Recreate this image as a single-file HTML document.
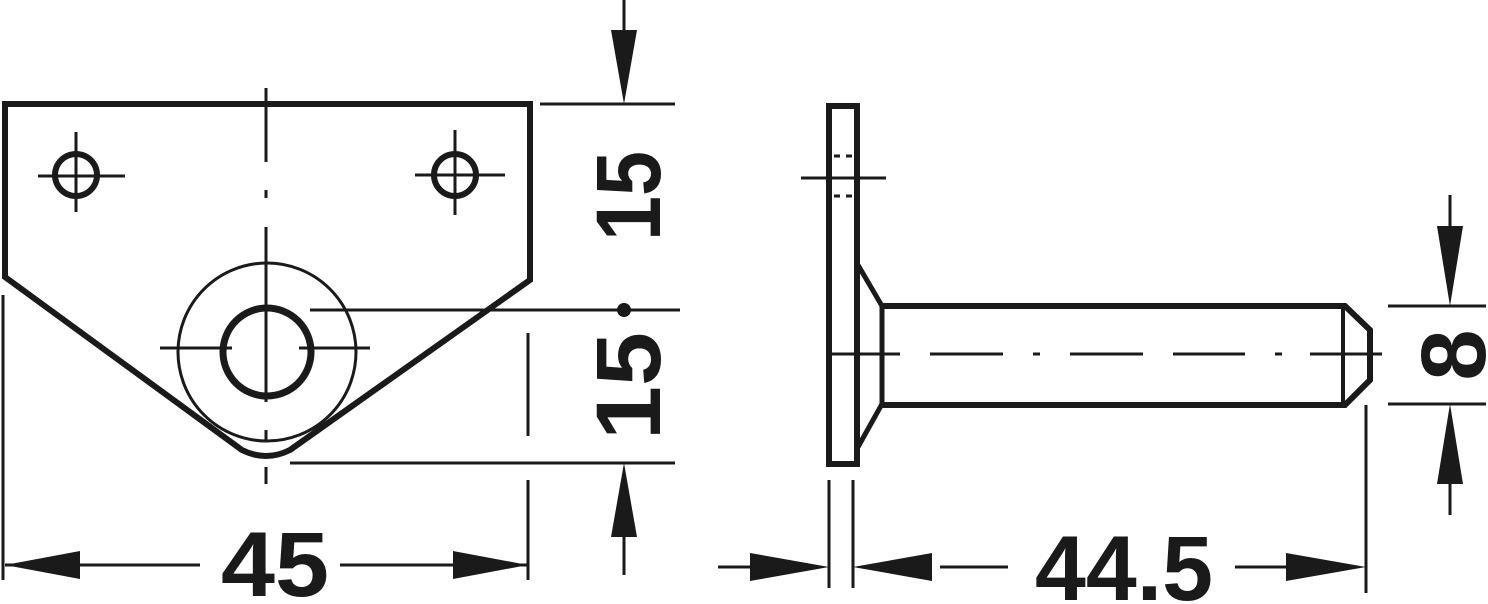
<!DOCTYPE html>
<html><head><meta charset="utf-8"><style>
html,body{margin:0;padding:0;background:#fff;width:1488px;height:604px;overflow:hidden}
text{font-family:"Liberation Sans",sans-serif;font-weight:bold;fill:#1a1a1a}
</style></head><body>
<svg width="1488" height="604" viewBox="0 0 1488 604" xmlns="http://www.w3.org/2000/svg">
<g stroke="#1a1a1a" fill="none" stroke-linecap="butt">
<path d="M5,104 H530 V280 L290,450 Q266,462 242,450 L5,277 Z" stroke-width="6"/>
<circle cx="76" cy="175" r="21" stroke-width="6"/>
<circle cx="455" cy="175" r="21" stroke-width="6"/>
<path d="M38,176 H125 M76,132 V212 M415,175 H505 M455,130 V215" stroke-width="3"/>
<circle cx="267" cy="352" r="89" stroke-width="3"/>
<circle cx="267" cy="352" r="44" stroke-width="7"/>
<path d="M160,348 H232 M299,348 H370" stroke-width="3"/>
<path d="M266,88 V162 M266,190 V198 M266,227 V402 M266,430 V442 M266,467 V484" stroke-width="3"/>
<path d="M540,104 H675 M290,463 H675 M310,310 H680 M528,333 V436 M528,480 V580 M3,295 V580" stroke-width="3"/>
<path d="M624,0 V40 M624,530 V575" stroke-width="3"/>
<path d="M5,565 H200 M340,565 H528" stroke-width="3"/>
<rect x="829" y="106" width="28" height="358" stroke-width="6"/>
<path d="M801,178 H886" stroke-width="3"/>
<path d="M834,156 H840 M846,156 H852 M834,196 H840 M846,196 H852" stroke-width="3"/>
<path d="M858,265 L882,306 V404 L858,447" stroke-width="5"/>
<path d="M882,306 H1345 L1370,330 V380 L1345,405 H882" stroke-width="6"/>
<path d="M1343,308 V402" stroke-width="4"/>
<path d="M832,354 H900 M930,354 H1003 M1033,354 H1040 M1070,354 H1143 M1173,354 H1245 M1275,354 H1282 M1310,354 H1382" stroke-width="3"/>
<path d="M1388,306 H1486 M1388,404 H1486 M1450,195 V240 M1450,470 V515" stroke-width="3"/>
<path d="M829,480 V588 M853,480 V588 M1366,405 V593" stroke-width="3"/>
<path d="M718,567 H760 M940,567 H1008 M1235,567 H1290" stroke-width="3"/>
</g>
<g fill="#1a1a1a">
<circle cx="624" cy="310" r="7"/>
<polygon points="624,104 611,30 637,30"/>
<polygon points="624,463 611,537 637,537"/>
<polygon points="5,565 80,551 80,579"/>
<polygon points="528,565 453,551 453,579"/>
<polygon points="1450,306 1437,226 1463,226"/>
<polygon points="1450,404 1437,484 1463,484"/>
<polygon points="829,567 750,553 750,581"/>
<polygon points="853,567 932,553 932,581"/>
<polygon points="1366,567 1286,553 1286,581"/>
</g>
<text x="275" y="596" font-size="92" text-anchor="middle" textLength="108" lengthAdjust="spacingAndGlyphs">45</text>
<text x="1124" y="600" font-size="92" text-anchor="middle" textLength="178" lengthAdjust="spacingAndGlyphs">44.5</text>
<text transform="translate(660,196) rotate(-90)" font-size="92" text-anchor="middle" textLength="90" lengthAdjust="spacingAndGlyphs">15</text>
<text transform="translate(660,386) rotate(-90)" font-size="92" text-anchor="middle" textLength="108" lengthAdjust="spacingAndGlyphs">15</text>
<text transform="translate(1485,355) rotate(-90)" font-size="92" text-anchor="middle">8</text>
</svg>
</body></html>
